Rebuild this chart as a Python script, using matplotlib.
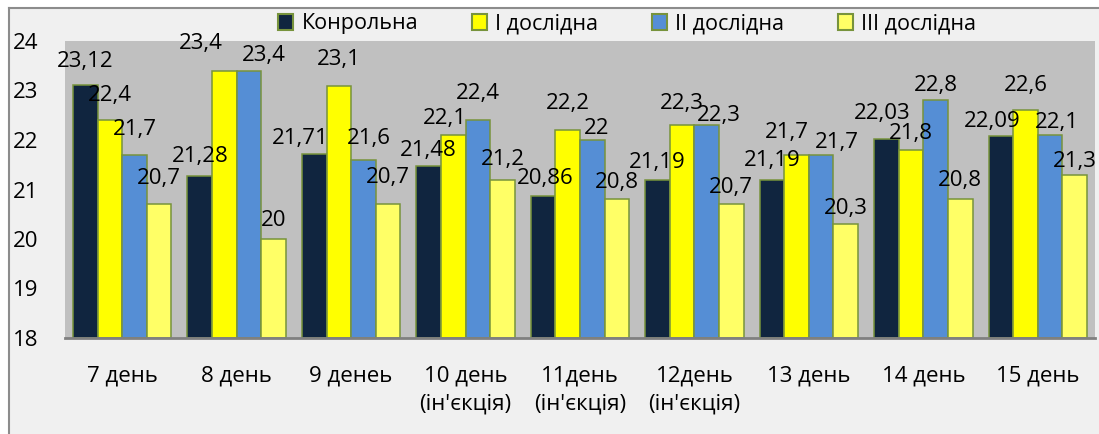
import matplotlib
matplotlib.use("Agg")
import matplotlib.pyplot as plt
from matplotlib.patches import Patch, Rectangle
from matplotlib.lines import Line2D
import numpy as np

categories = ["7 день", "8 день", "9 денеь", "10 день\n(ін'єкція)", "11день\n(ін'єкція)",
              "12день\n(ін'єкція)", "13 день", "14 день", "15 день"]
series_names = ["Конрольна", "І дослідна", "ІІ дослідна", "ІІІ дослідна"]
control = [23.12, 21.28, 21.71, 21.48, 20.86, 21.19, 21.19, 22.03, 22.09]
exp1 = [22.4, 23.4, 23.1, 22.1, 22.2, 22.3, 21.7, 21.8, 22.6]
exp2 = [21.7, 23.4, 21.6, 22.4, 22.0, 22.3, 21.7, 22.8, 22.1]
exp3 = [20.7, 20.0, 20.7, 21.2, 20.8, 20.7, 20.3, 20.8, 21.3]
yticks = [18, 19, 20, 21, 22, 23, 24]

# data-label placement (pixel offsets of label centre from bar top), mimicking the reference
label_offsets = [
    [(0, 23), (0, 19), (-14, 16), (0, 15), (2, 18), (0, 18), (0, 20), (-4, 25), (-9, 14)],
    [(0, 25), (-24, 27), (0, 26), (-8, 17), (0, 27), (0, 22), (-10, 22), (0, 16), (0, 25)],
    [(0, 25), (15, 15), (5, 21), (0, 27), (4, 12), (12, 10), (16, 12), (0, 15), (7, 13)],
    [(0, 26), (0, 18), (0, 27), (0, 20), (0, 17), (0, 17), (0, 16), (0, 19), (0, 13)],
]

colors = ["#10253F", "#FFFF00", "#558ED5", "#FFFF66"]
edge = "#77933C"
FS = 16

plt.rcParams['font.family'] = ['Open Sans', 'DejaVu Sans']

W, H = 1099, 434
fig = plt.figure(figsize=(W / 100, H / 100), dpi=100)
fig.patch.set_facecolor("white")

# chart area background with left/top border
fig.patches.append(Rectangle((9 / W, 0), 1 - 9 / W, 1 - 8 / H, transform=fig.transFigure,
                             facecolor="#F0F0F0", edgecolor="none", zorder=-5))
fig.lines.append(Line2D([9 / W, 9 / W], [0, 1 - 8 / H], transform=fig.transFigure,
                        color="#8C8C8C", lw=1.5, zorder=-4))
fig.lines.append(Line2D([9 / W, 1], [1 - 8 / H, 1 - 8 / H], transform=fig.transFigure,
                        color="#8C8C8C", lw=1.5, zorder=-4))

left, right, top, bottom = 65, 1095, 41, 338
ax = fig.add_axes([left / W, 1 - bottom / H, (right - left) / W, (bottom - top) / H])
ax.set_facecolor("#C0C0C0")

x = np.arange(len(categories))
bw = 0.215
all_series = [control, exp1, exp2, exp3]
for i, (vals, c, name) in enumerate(zip(all_series, colors, series_names)):
    pos = x + (i - 1.5) * bw
    heights = [v - 18 for v in vals]
    ax.bar(pos, heights, width=bw, bottom=18, color=c, edgecolor=edge, linewidth=1.1, zorder=2)
    for j, (px, v) in enumerate(zip(pos, vals)):
        dx, dy = label_offsets[i][j]
        ax.annotate(f"{v:g}".replace('.', ','), (px, v), xytext=(dx, dy), textcoords="offset pixels",
                    ha="center", va="center", fontsize=FS, color="black", zorder=5,
                    annotation_clip=False)

ax.set_xlim(-0.5, len(categories) - 0.5)
ax.set_ylim(18, 24)
ax.set_yticks(yticks)
ax.set_yticklabels([str(t) for t in yticks], fontsize=FS)
ax.set_xticks(x)
ax.set_xticklabels(categories, fontsize=FS, linespacing=1.4)
ax.tick_params(axis='y', length=0, pad=19)
ax.tick_params(axis='x', length=0, pad=20)
for s in ["left", "right", "top"]:
    ax.spines[s].set_visible(False)
ax.spines["bottom"].set_color("#808080")
ax.spines["bottom"].set_linewidth(2)
ax.spines["bottom"].set_zorder(6)

handles = [Patch(facecolor=c, edgecolor=edge, linewidth=1.5) for c in colors]
fig.legend(handles, series_names, loc="center", bbox_to_anchor=(627 / W, 1 - 24 / H), ncol=4,
           frameon=False, fontsize=15.5, handlelength=0.7, handleheight=0.7, handletextpad=0.37,
           columnspacing=2.5, borderpad=0)

fig.savefig("out.png", dpi=100, facecolor=fig.get_facecolor())
